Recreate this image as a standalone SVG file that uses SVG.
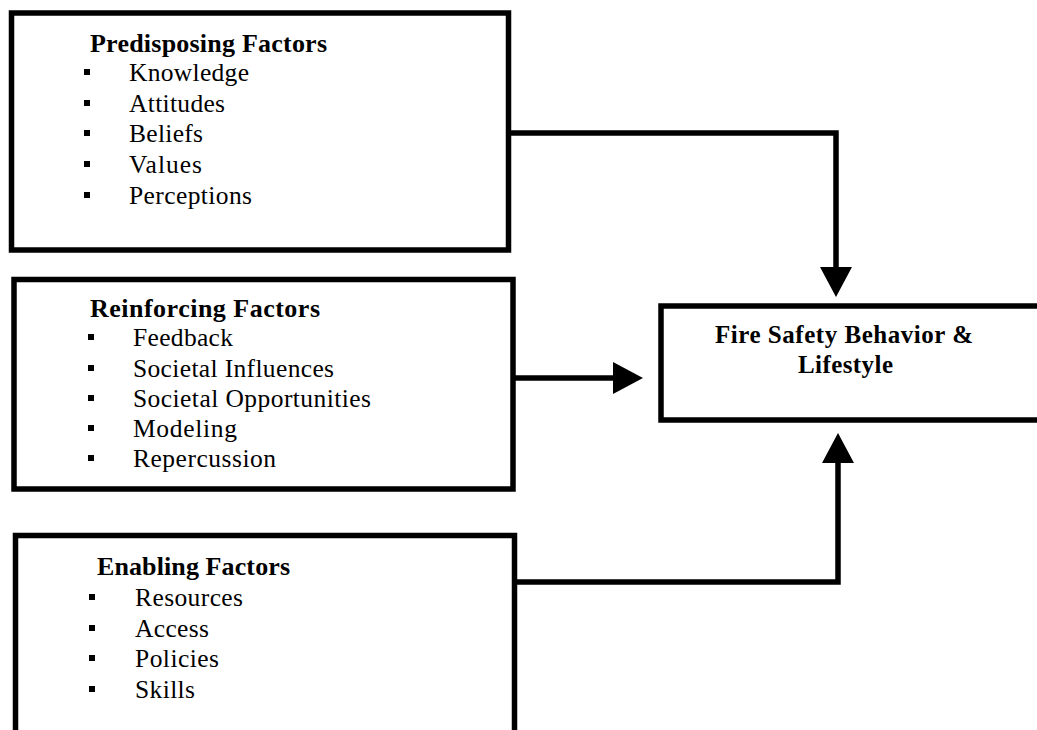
<svg xmlns="http://www.w3.org/2000/svg" width="1037" height="730" viewBox="0 0 1037 730">
<style>
.box{fill:#fff;stroke:#000;stroke-width:5.5}
.h{font-family:"Times New Roman","Liberation Serif",serif;font-weight:bold;font-size:26px;fill:#000}
.f{font-size:25px}
.t{font-family:"Times New Roman","Liberation Serif",serif;font-size:25.5px;fill:#000}
.b{fill:#000}
.c{fill:none;stroke:#000;stroke-width:5.5;marker-end:url(#arr)}
</style>
<defs>
<marker id="arr" markerUnits="userSpaceOnUse" markerWidth="32" markerHeight="34" refX="0" refY="16" orient="auto" viewBox="0 0 32 34">
<path d="M0,0 L30,16 L0,32 z" fill="#000"/>
</marker>
</defs>
<rect width="1037" height="730" fill="#fff"/>
<g id="connectors">
<path class="c" d="M508,133 H836 V267"/>
<path class="c" d="M513,378 H613"/>
<path class="c" d="M515,582 H838 V463"/>
</g>
<g id="predisposing">
<rect class="box" x="11.5" y="13" width="497" height="237"/>
<text class="h" x="90" y="52" textLength="237" lengthAdjust="spacing">Predisposing Factors</text>
<rect class="b" x="84" y="69" width="6" height="6"/>
<rect class="b" x="84" y="100" width="6" height="6"/>
<rect class="b" x="84" y="130" width="6" height="6"/>
<rect class="b" x="84" y="161" width="6" height="6"/>
<rect class="b" x="84" y="192" width="6" height="6"/>
<text class="t" x="129" y="81" textLength="120" lengthAdjust="spacing">Knowledge</text>
<text class="t" x="129" y="112" textLength="96" lengthAdjust="spacing">Attitudes</text>
<text class="t" x="129" y="142" textLength="74" lengthAdjust="spacing">Beliefs</text>
<text class="t" x="129" y="173" textLength="73" lengthAdjust="spacing">Values</text>
<text class="t" x="129" y="204" textLength="123" lengthAdjust="spacing">Perceptions</text>
</g>
<g id="reinforcing">
<rect class="box" x="14" y="279.5" width="499" height="209.5"/>
<text class="h" x="90" y="317" textLength="230" lengthAdjust="spacing">Reinforcing Factors</text>
<rect class="b" x="88" y="334" width="6" height="6"/>
<rect class="b" x="88" y="365" width="6" height="6"/>
<rect class="b" x="88" y="395" width="6" height="6"/>
<rect class="b" x="88" y="425" width="6" height="6"/>
<rect class="b" x="88" y="455" width="6" height="6"/>
<text class="t" x="133" y="346" textLength="100" lengthAdjust="spacing">Feedback</text>
<text class="t" x="133" y="377" textLength="201" lengthAdjust="spacing">Societal Influences</text>
<text class="t" x="133" y="407" textLength="238" lengthAdjust="spacing">Societal Opportunities</text>
<text class="t" x="133" y="437" textLength="104" lengthAdjust="spacing">Modeling</text>
<text class="t" x="133" y="467" textLength="143" lengthAdjust="spacing">Repercussion</text>
</g>
<g id="enabling">
<rect class="box" x="15.5" y="535.5" width="499" height="215"/>
<text class="h" x="97" y="575" textLength="193" lengthAdjust="spacing">Enabling Factors</text>
<rect class="b" x="89" y="594" width="6" height="6"/>
<rect class="b" x="89" y="625" width="6" height="6"/>
<rect class="b" x="89" y="655" width="6" height="6"/>
<rect class="b" x="89" y="686" width="6" height="6"/>
<text class="t" x="135" y="606" textLength="108" lengthAdjust="spacing">Resources</text>
<text class="t" x="135" y="637" textLength="74" lengthAdjust="spacing">Access</text>
<text class="t" x="135" y="667" textLength="84" lengthAdjust="spacing">Policies</text>
<text class="t" x="135" y="698" textLength="60" lengthAdjust="spacing">Skills</text>
</g>
<g id="behavior">
<rect class="box" x="661" y="306" width="400" height="114"/>
<text class="h f" x="715" y="343" textLength="258" lengthAdjust="spacing">Fire Safety Behavior &amp;</text>
<text class="h f" x="798" y="373" textLength="95" lengthAdjust="spacing">Lifestyle</text>
</g>
</svg>
